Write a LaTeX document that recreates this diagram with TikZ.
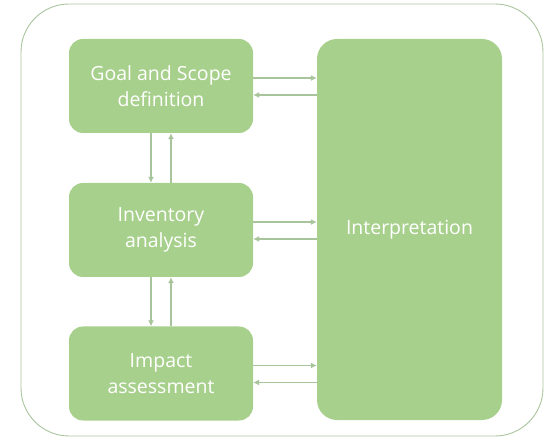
\documentclass[tikz,border=0pt]{standalone}
\usepackage{fontspec}
\setmainfont{Open Sans}
\usepackage{xcolor}
\usetikzlibrary{arrows.meta}

\definecolor{boxgreen}{RGB}{168,208,141}
\definecolor{arrowgreen}{RGB}{168,196,154}
\definecolor{framegreen}{RGB}{170,196,158}

\tikzset{
  stagebox/.style={rectangle, rounded corners=14pt, fill=boxgreen, text=white,
    minimum width=184pt, minimum height=94pt, align=center, inner sep=0pt,
    font=\fontsize{19.5}{25.5}\selectfont},
  flow/.style={draw=arrowgreen, line width=1.1pt, -{Latex[length=6pt,width=6pt]}}
}

\begin{document}
\begin{tikzpicture}[x=1pt,y=1pt,yscale=-1]
\useasboundingbox (0,0) rectangle (546,443);

% outer frame
\draw [framegreen, line width=0.9pt, rounded corners=48pt] (21,4) rectangle (543,436);

% stages
\node [stagebox] (goal) at (161,86) {Goal and Scope\\definition};
\node [stagebox] (inventory) at (161,230) {Inventory\\analysis};
\node [stagebox] (impact) at (161,373.5) {Impact\\assessment};
\node [stagebox, rounded corners=20pt, minimum width=185pt, minimum height=381pt] (interp) at (409.5,229.5) {Interpretation};

% to and from interpretation
\draw [flow] ([yshift=-8pt]goal.east) -- ([yshift=-8pt]goal.east -| interp.west);
\draw [flow] ([yshift=9pt]goal.east -| interp.west) -- ([yshift=9pt]goal.east);
\draw [flow] ([yshift=-8pt]inventory.east) -- ([yshift=-8pt]inventory.east -| interp.west);
\draw [flow] ([yshift=9pt]inventory.east -| interp.west) -- ([yshift=9pt]inventory.east);
\draw [flow] ([yshift=-8pt]impact.east) -- ([yshift=-8pt]impact.east -| interp.west);
\draw [flow] ([yshift=9pt]impact.east -| interp.west) -- ([yshift=9pt]impact.east);

% between stages
\draw [flow] ([xshift=-10pt]goal.south) -- ([xshift=-10pt]inventory.north);
\draw [flow] ([xshift=10pt]inventory.north) -- ([xshift=10pt]goal.south);
\draw [flow] ([xshift=-10pt]inventory.south) -- ([xshift=-10pt]impact.north);
\draw [flow] ([xshift=10pt]impact.north) -- ([xshift=10pt]inventory.south);

\end{tikzpicture}
\end{document}
